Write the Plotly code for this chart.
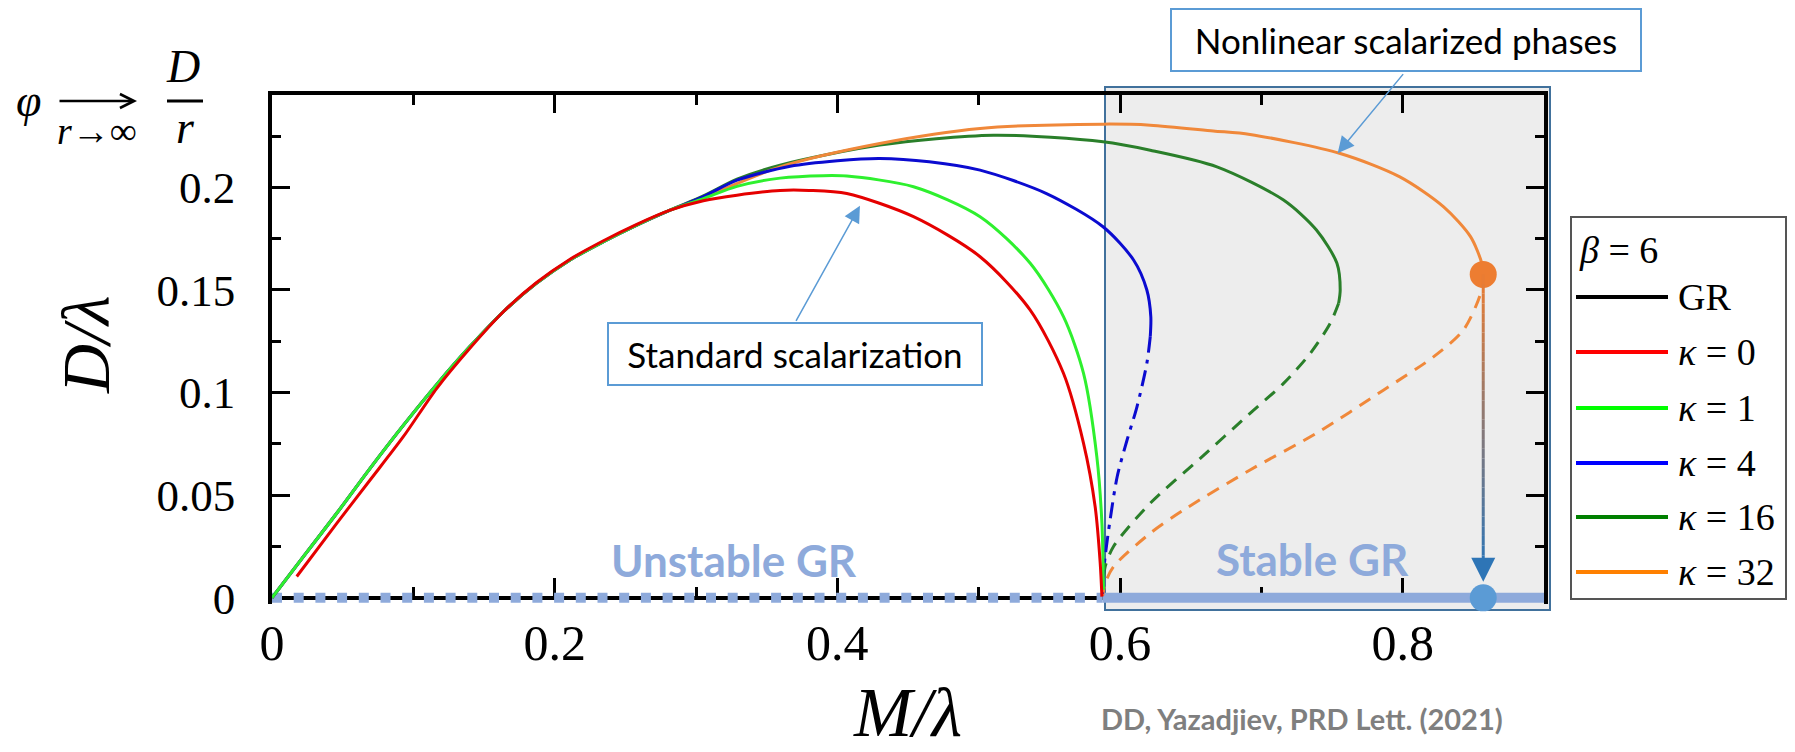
import plotly.graph_objects as go

# ------------------------------------------------------------------ data
# GR branch (D = 0)
gr_x = [0.0, 0.9]
gr_y = [0.0, 0.0]
unstable_gr_x = [0.0, 0.5875]
unstable_gr_y = [0.0, 0.0]
stable_gr_x = [0.5875, 0.9]
stable_gr_y = [0.0, 0.0]

# common rising part of the scalarized branches
common_x = [0.0, 0.0222, 0.0458, 0.0694, 0.0929, 0.1166, 0.140, 0.1637, 0.187, 0.2109, 0.2345, 0.2581, 0.2817]
common_y = [0.0, 0.0201, 0.0412, 0.0631, 0.0840, 0.1040, 0.1224, 0.1394, 0.1532, 0.1646, 0.1735, 0.1816, 0.1889]

# kappa = 0
k0_x = [0.0175, 0.0458, 0.0694, 0.0929, 0.1166, 0.140, 0.1637, 0.187, 0.2109, 0.2345, 0.2581, 0.2817,
        0.3052, 0.329, 0.3595, 0.380, 0.4067, 0.4539, 0.501, 0.5365, 0.560, 0.5742, 0.5824, 0.586, 0.5872]
k0_y = [0.0104, 0.0363, 0.0574, 0.0785, 0.1021, 0.1216, 0.1394, 0.1535, 0.1650, 0.1740, 0.1820, 0.1889,
        0.1935, 0.1962, 0.1985, 0.1985, 0.1970, 0.1857, 0.1662, 0.1402, 0.1094, 0.0753, 0.0445, 0.0169, 0.0006]

# kappa = 1
k1_tail_x = [0.3052, 0.329, 0.3595, 0.390, 0.4067, 0.4539, 0.501, 0.5365, 0.560, 0.5742, 0.5836, 0.5872, 0.5883]
k1_tail_y = [0.1945, 0.2005, 0.2045, 0.2057, 0.2055, 0.2003, 0.1857, 0.1630, 0.1370, 0.1094, 0.0688, 0.0364, 0.0039]

# kappa = 4
k4_tail_x = [0.3052, 0.329, 0.3666, 0.400, 0.430, 0.465, 0.501, 0.548, 0.588, 0.6096, 0.619, 0.6218, 0.6214]
k4_tail_y = [0.1955, 0.2035, 0.2103, 0.2130, 0.2141, 0.2125, 0.2084, 0.1970, 0.1808, 0.1646, 0.1500, 0.1370, 0.1272]
k4_dash_x = [0.6214, 0.619, 0.612, 0.605, 0.598, 0.593, 0.5895, 0.588, 0.5876]
k4_dash_y = [0.1272, 0.1143, 0.0931, 0.0769, 0.0590, 0.0380, 0.0201, 0.0088, 0.0020]

# kappa = 16
k16_tail_x = [0.3052, 0.329, 0.3595, 0.430, 0.5105, 0.588, 0.6214, 0.6686, 0.7157, 0.739, 0.7535, 0.7558, 0.7547]
k16_tail_y = [0.1958, 0.2040, 0.2108, 0.2206, 0.2254, 0.2222, 0.2181, 0.2100, 0.1938, 0.1792, 0.1630, 0.1500, 0.1435]
k16_dash_x = [0.7547, 0.7487, 0.7346, 0.7157, 0.692, 0.6568, 0.6214, 0.5954, 0.5895, 0.5878]
k16_dash_y = [0.1435, 0.1337, 0.1191, 0.1045, 0.0899, 0.0680, 0.0461, 0.0250, 0.0152, 0.0040]

# kappa = 32
k32_tail_x = [0.3052, 0.3595, 0.430, 0.501, 0.588, 0.6214, 0.666, 0.692, 0.7558, 0.798, 0.829, 0.848, 0.856, 0.857]
k32_tail_y = [0.1950, 0.2100, 0.2214, 0.2287, 0.2308, 0.2303, 0.2275, 0.2258, 0.2165, 0.2051, 0.1905, 0.1760, 0.1630, 0.1576]
k32_dash_x = [0.857, 0.855, 0.843, 0.822, 0.7866, 0.739, 0.692, 0.645, 0.6214, 0.5954, 0.5895, 0.5878]
k32_dash_y = [0.1576, 0.1480, 0.1305, 0.1175, 0.1013, 0.0802, 0.0623, 0.0428, 0.0315, 0.0152, 0.0071, 0.0010]

# jump from the end of the kappa=32 branch down to GR
jump_x = [0.857, 0.857]
jump_y = [0.1576, 0.0]

series_names = ["GR", "κ = 0", "κ = 1", "κ = 4", "κ = 16", "κ = 32"]
series_colors = ["#000000", "#e50000", "#2ef02e", "#0b0bd0", "#2a7f2a", "#f0883a"]
legend_colors = ["#000000", "#ff0000", "#00ff00", "#0000ff", "#008000", "#ff8000"]

x_ticks_major = 0.2
y_ticks_major = 0.05

# ------------------------------------------------------------------ layout helpers
W, H = 1795, 752
L, R, T, B = 272, 1544, 95, 604          # plot-area pixel edges
X_RANGE = [0.0, 0.9]
Y_RANGE = [-0.003, 0.245]

SERIF = "Liberation Serif, Times New Roman, serif"
SANS = "Lato, Carlito, Calibri, sans-serif"
ANN_BLUE = "#5b9bd5"
GR_BLUE = "#8eaadb"


def pxp(px):
    return (px - L) / (R - L)


def pyp(py):
    return (B - py) / (B - T)


zero_pos = (0 - Y_RANGE[0]) / (Y_RANGE[1] - Y_RANGE[0])


def text_ann(px, py, text, size, family=SERIF, color="black", xanchor="center", **kw):
    d = dict(x=pxp(px), y=pyp(py), xref="paper", yref="paper", text=text, showarrow=False,
             xanchor=xanchor, yanchor="middle", font=dict(family=family, size=size, color=color))
    d.update(kw)
    return d


fig = go.Figure()

# GR line (black) and stability markings
fig.add_trace(go.Scatter(x=gr_x, y=gr_y, mode="lines", name=series_names[0],
                         line=dict(color=series_colors[0], width=3), showlegend=False, hoverinfo="skip"))
fig.add_trace(go.Scatter(x=unstable_gr_x, y=unstable_gr_y, mode="lines", name="Unstable GR",
                         line=dict(color=GR_BLUE, width=10, dash="10px,11.7px"), showlegend=False,
                         hoverinfo="skip"))
fig.add_trace(go.Scatter(x=stable_gr_x, y=stable_gr_y, mode="lines", name="Stable GR",
                         line=dict(color=GR_BLUE, width=10), showlegend=False, hoverinfo="skip"))

spl = dict(shape="spline", smoothing=0.8, width=3)

fig.add_trace(go.Scatter(x=common_x + k16_tail_x, y=common_y + k16_tail_y, mode="lines", name=series_names[4],
                         line=dict(color=series_colors[4], **spl), showlegend=False))
fig.add_trace(go.Scatter(x=k16_dash_x, y=k16_dash_y, mode="lines", name=series_names[4],
                         line=dict(color=series_colors[4], dash="13px,9px", **spl), showlegend=False))
fig.add_trace(go.Scatter(x=common_x + k32_tail_x, y=common_y + k32_tail_y, mode="lines", name=series_names[5],
                         line=dict(color=series_colors[5], **spl), showlegend=False))
fig.add_trace(go.Scatter(x=k32_dash_x, y=k32_dash_y, mode="lines", name=series_names[5],
                         line=dict(color=series_colors[5], dash="13px,9px", **spl), showlegend=False))
fig.add_trace(go.Scatter(x=common_x + k4_tail_x, y=common_y + k4_tail_y, mode="lines", name=series_names[3],
                         line=dict(color=series_colors[3], **spl), showlegend=False))
fig.add_trace(go.Scatter(x=k4_dash_x, y=k4_dash_y, mode="lines", name=series_names[3],
                         line=dict(color=series_colors[3], dash="16px,7px,4px,7px", **spl), showlegend=False))
fig.add_trace(go.Scatter(x=common_x + k1_tail_x, y=common_y + k1_tail_y, mode="lines", name=series_names[2],
                         line=dict(color=series_colors[2], **spl), showlegend=False))
fig.add_trace(go.Scatter(x=k0_x, y=k0_y, mode="lines", name=series_names[1],
                         line=dict(color=series_colors[1], **spl), showlegend=False))

# jump dots
fig.add_trace(go.Scatter(x=jump_x, y=jump_y, mode="markers", cliponaxis=False, showlegend=False,
                         marker=dict(size=27, color=["#ed7d31", "#5b9bd5"], line=dict(width=0)),
                         hoverinfo="skip"))

# empty trace so that the mirrored top axis is drawn
fig.add_trace(go.Scatter(x=[], y=[], xaxis="x2", yaxis="y", showlegend=False, hoverinfo="skip"))

shapes = []
annotations = []

# shaded "nonlinear" region
shapes.append(dict(type="rect", xref="paper", yref="paper", x0=pxp(1105), x1=pxp(1550), y0=pyp(610), y1=pyp(87),
                   fillcolor="#ededed", line=dict(color="#41719c", width=2), layer="below"))

# gradient jump arrow (orange -> blue)
c0 = (237, 125, 49)
c1 = (46, 117, 182)
y_start = jump_y[0]
y_end = 0.016
N = 30
for i in range(N):
    t0 = i / N
    t1 = (i + 1) / N
    tm = (t0 + t1) / 2
    col = "rgb(%d,%d,%d)" % tuple(int(c0[k] + (c1[k] - c0[k]) * tm) for k in range(3))
    shapes.append(dict(type="line", xref="x", yref="y", x0=jump_x[0], x1=jump_x[0],
                       y0=y_start + (y_end - y_start) * t0, y1=y_start + (y_end - y_start) * t1,
                       line=dict(color=col, width=3), layer="above"))
annotations.append(dict(x=jump_x[0], y=0.0078, xref="x", yref="y", ax=0, ay=-18, text=" ",
                        font=dict(size=1), showarrow=True, arrowhead=2, arrowsize=1.6, arrowwidth=3,
                        arrowcolor="#2e75b6", standoff=0, startstandoff=0))

# text boxes with arrows
annotations.append(text_ann(795, 354, "Standard scalarization", 35, family=SANS,
                            width=372, height=60, bordercolor=ANN_BLUE, borderwidth=2, borderpad=0,
                            bgcolor="white"))
annotations.append(dict(x=0.416, y=0.191, xref="x", yref="y", ax=-65, ay=117, text=" ", font=dict(size=1),
                        showarrow=True, arrowhead=2, arrowsize=2.2, arrowwidth=1.5, arrowcolor=ANN_BLUE,
                        standoff=0, startstandoff=0))
annotations.append(text_ann(1406, 40, "Nonlinear scalarized phases", 35, family=SANS,
                            width=468, height=60, bordercolor=ANN_BLUE, borderwidth=2, borderpad=0,
                            bgcolor="white"))
annotations.append(dict(x=0.754, y=0.2166, xref="x", yref="y", ax=67, ay=-81, text=" ", font=dict(size=1),
                        showarrow=True, arrowhead=2, arrowsize=2.2, arrowwidth=1.5, arrowcolor=ANN_BLUE,
                        standoff=0, startstandoff=0))

# GR stability labels
annotations.append(text_ann(734, 560, "<b>Unstable GR</b>", 44, family=SANS, color=GR_BLUE))
annotations.append(text_ann(1312, 559, "<b>Stable GR</b>", 44, family=SANS, color=GR_BLUE))

# citation
annotations.append(text_ann(1302, 718, "<b>DD, Yazadjiev, PRD Lett. (2021)</b>", 29, family=SANS, color="#7f7f7f"))

# axis titles
annotations.append(text_ann(86, 345, "<i>D/λ</i>", 68, textangle=-90))
annotations.append(text_ann(907, 712, "<i>M/λ</i>", 70))

# top-left formula  phi -> D/r
annotations.append(text_ann(29, 100, "<i>φ</i>", 46))
annotations.append(dict(x=pxp(137), y=pyp(101), xref="paper", yref="paper", ax=-79, ay=0, text=" ",
                        font=dict(size=1), showarrow=True, arrowhead=5, arrowsize=1.1, arrowwidth=2.5,
                        arrowcolor="black", standoff=0, startstandoff=0))
annotations.append(text_ann(97, 131, "<i>r</i>→∞", 38))
annotations.append(text_ann(183, 66, "<i>D</i>", 46))
annotations.append(text_ann(185, 127, "<i>r</i>", 46))
shapes.append(dict(type="line", xref="paper", yref="paper", x0=pxp(167), x1=pxp(203), y0=pyp(101), y1=pyp(101),
                   line=dict(color="black", width=3)))

# custom legend
shapes.append(dict(type="rect", xref="paper", yref="paper", x0=pxp(1571), x1=pxp(1786), y0=pyp(599), y1=pyp(217),
                   fillcolor="white", line=dict(color="#555555", width=2), layer="above"))
annotations.append(text_ann(1577, 250, "<i>β</i> = 6", 38, xanchor="left"))
leg_y = [297, 352, 408, 463, 517, 572]
for name, col, yy in zip(series_names, legend_colors, leg_y):
    shapes.append(dict(type="line", xref="paper", yref="paper", x0=pxp(1576), x1=pxp(1668), y0=pyp(yy),
                       y1=pyp(yy), line=dict(color=col, width=4), layer="above"))
    label = name.replace("κ", "<i>κ</i>")
    annotations.append(text_ann(1676, yy, label, 38, xanchor="left"))

tick_common = dict(ticks="inside", ticklen=18, tickwidth=3, tickcolor="black", showline=True,
                   linecolor="black", linewidth=3.5, showgrid=False, zeroline=False, layer="below traces")

fig.update_layout(
    width=W, height=H, autosize=False,
    margin=dict(l=L, r=W - R, t=T, b=H - B, pad=0),
    paper_bgcolor="white", plot_bgcolor="white",
    showlegend=False,
    xaxis=dict(range=X_RANGE, anchor="free", position=zero_pos, dtick=x_ticks_major, tick0=0,
               minor=dict(ticks="inside", ticklen=9, tickwidth=3, tickcolor="black", dtick=x_ticks_major / 2),
               tickfont=dict(family=SERIF, size=50, color="black"), ticklabelstandoff=0, **tick_common),
    xaxis2=dict(range=X_RANGE, overlaying="x", side="top", anchor="y", matches="x", dtick=x_ticks_major, tick0=0,
                minor=dict(ticks="inside", ticklen=10, tickwidth=3, tickcolor="black", dtick=x_ticks_major / 2),
                showticklabels=False, **tick_common),
    yaxis=dict(range=Y_RANGE, mirror="ticks", dtick=y_ticks_major, tick0=0,
               minor=dict(ticks="inside", ticklen=9, tickwidth=3, tickcolor="black", dtick=y_ticks_major / 2),
               tickfont=dict(family=SERIF, size=45, color="black"), ticklabelstandoff=24, **tick_common),
    shapes=shapes,
    annotations=annotations,
)

fig.write_html("out.html", config={"displayModeBar": False},
               post_script="document.body.style.margin='0px';document.body.style.overflow='hidden';")
